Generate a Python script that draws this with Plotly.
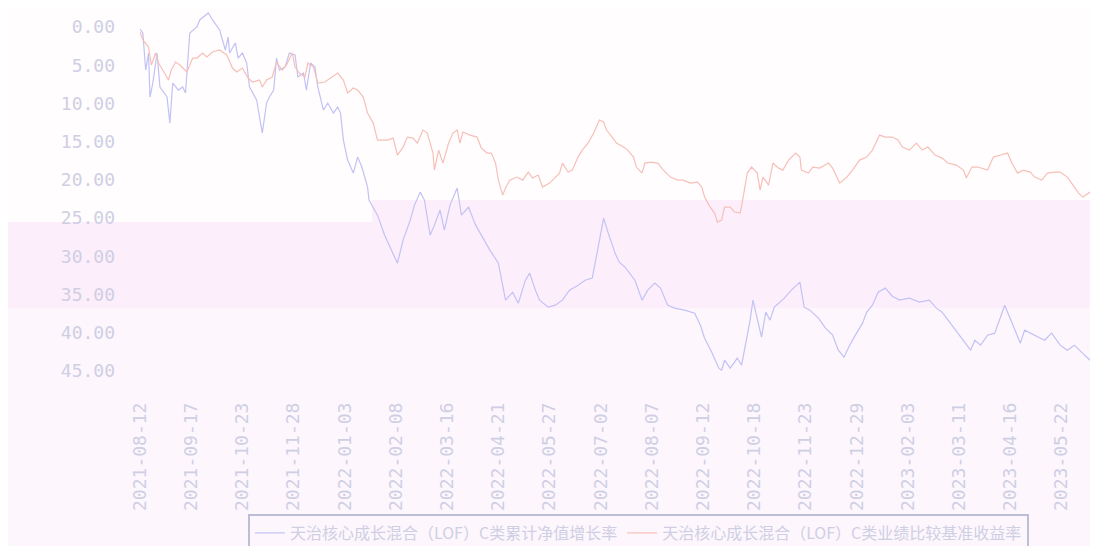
import pandas as pd
import plotly.graph_objects as go

# ---------------- data ----------------
start_date = "2021-08-12"

tick_labels = ["2021-08-12", "2021-09-17", "2021-10-23", "2021-11-28", "2022-01-03",
               "2022-02-08", "2022-03-16", "2022-04-21", "2022-05-27", "2022-07-02",
               "2022-08-07", "2022-09-12", "2022-10-18", "2022-11-23", "2022-12-29",
               "2023-02-03", "2023-03-11", "2023-04-16", "2023-05-22", "2023-06-30"]

y_ticks = [0, 5, 10, 15, 20, 25, 30, 35, 40, 45]

series1_name = "天治核心成长混合（LOF）C类累计净值增长率"
series2_name = "天治核心成长混合（LOF）C类业绩比较基准收益率"

# day offsets from start_date, and values (axis is drawn reversed, 0 at top)
nav_days = [0, 2, 4, 6, 7, 9, 12, 14, 19, 21, 23, 27, 30, 32, 35, 40, 42, 46, 48, 51,
            56, 58, 60, 62, 63, 67, 69, 72, 75, 77, 82, 86, 89, 91, 94, 96, 98, 102, 105, 109,
            111, 115, 117, 120, 123, 125, 129, 132, 136, 139, 141, 143, 146, 150, 153, 156, 160, 161, 167, 172,
            177, 181, 185, 190, 193, 197, 200, 204, 207, 211, 214, 218, 223, 226, 231, 236, 240, 246, 252, 255,
            257, 262, 266, 271, 274, 278, 281, 287, 292, 297, 302, 308, 313, 318, 322, 326, 329, 334, 337, 341,
            348, 353, 357, 362, 366, 371, 376, 383, 390, 394, 397, 402, 407, 409, 411, 415, 420, 423, 425, 429,
            431, 434, 437, 440, 443, 446, 453, 458, 464, 467, 471, 477, 482, 487, 491, 495, 499, 503, 508, 511,
            515, 519, 524, 529, 534, 541, 548, 555, 560, 564, 584, 587, 591, 596, 601, 608, 615, 619, 622, 629,
            636, 641, 647, 652, 657, 662, 668, 673, 677, 681, 686]
nav_vals = [0.26, 0.79, 5.63, 3.40, 9.16, 7.33, 3.40, 7.85, 9.16, 12.57, 7.33, 8.25, 7.85, 8.64, 0.79, 0.0, -0.92, -1.57, -1.83, -0.92,
            0.39, 1.70, 3.01, 1.31, 3.40, 2.09, 4.06, 3.40, 4.71, 7.85, 9.55, 13.87, 9.95, 9.16, 8.25, 4.06, 5.63, 5.24, 3.40, 3.66,
            6.54, 6.02, 8.25, 4.71, 5.24, 7.85, 10.86, 9.95, 11.26, 10.47, 11.26, 14.79, 17.41, 19.11, 17.02, 18.32, 20.94, 22.64, 24.61, 27.23,
            29.19, 30.89, 27.88, 25.26, 23.30, 21.60, 22.64, 27.23, 25.92, 23.95, 26.57, 23.30, 21.07, 24.61, 23.56, 25.92, 27.23, 29.19, 30.89, 33.77,
            35.73, 34.69, 36.13, 33.12, 32.20, 34.42, 35.73, 36.65, 36.39, 35.73, 34.42, 33.77, 33.12, 32.85, 28.80, 25.00, 26.83, 29.58, 30.76, 31.41,
            33.12, 35.73, 34.42, 33.51, 34.16, 36.39, 36.78, 37.04, 37.43, 39.01, 40.71, 42.54, 44.63, 44.90, 43.59, 44.63, 43.32, 44.24, 42.28, 38.35,
            35.73, 38.09, 40.58, 37.30, 38.35, 36.65, 35.47, 34.42, 33.38, 36.65, 37.04, 38.09, 39.40, 40.31, 42.28, 43.19, 41.62, 40.31, 38.74, 37.30,
            36.39, 34.69, 34.16, 35.21, 35.73, 35.47, 35.99, 35.73, 36.78, 37.30, 42.28, 40.97, 41.62, 40.31, 40.05, 36.39, 39.66, 41.36, 39.66, 40.31,
            40.97, 40.05, 41.62, 42.28, 41.62, 42.54, 43.59, 43.19, 44.63, 44.90, 44.24]

bench_days = [0, 2, 6, 8, 11, 13, 16, 20, 22, 25, 28, 33, 37, 40, 44, 47, 51, 56, 61, 65,
              68, 72, 76, 79, 84, 86, 89, 93, 96, 100, 103, 107, 109, 112, 116, 118, 122, 125, 130, 135,
              139, 143, 146, 150, 153, 157, 160, 164, 167, 174, 178, 181, 185, 188, 192, 195, 199, 202, 206, 207,
              210, 213, 217, 220, 223, 225, 227, 232, 237, 240, 244, 247, 250, 252, 255, 257, 260, 265, 269, 273,
              276, 280, 283, 288, 292, 295, 297, 301, 304, 308, 311, 315, 319, 323, 326, 328, 332, 335, 340, 343,
              347, 349, 353, 355, 359, 364, 368, 373, 378, 382, 387, 392, 395, 397, 400, 404, 406, 409, 411, 415,
              418, 422, 424, 427, 430, 434, 436, 438, 442, 445, 449, 452, 456, 461, 464, 465, 470, 473, 478, 484,
              487, 492, 497, 501, 506, 511, 515, 520, 524, 529, 533, 536, 541, 546, 550, 554, 559, 564, 568, 574,
              579, 581, 585, 589, 596, 600, 605, 610, 613, 617, 621, 626, 629, 634, 638, 643, 647, 652, 656, 660,
              663, 668, 671, 673, 678, 681, 684, 686]
bench_vals = [0.65, 1.70, 2.62, 4.97, 3.40, 4.71, 5.63, 6.94, 5.63, 4.58, 4.97, 5.89, 4.06, 4.06, 3.40, 3.93, 3.27, 3.01, 3.66, 5.37,
              5.89, 5.37, 6.68, 7.20, 6.94, 7.85, 6.94, 6.54, 4.58, 5.63, 4.97, 3.40, 5.24, 6.02, 6.54, 4.71, 5.24, 7.33, 7.20, 6.54,
              6.02, 6.94, 8.64, 7.98, 8.25, 9.16, 11.26, 12.57, 14.79, 14.79, 14.53, 16.75, 15.71, 14.40, 14.53, 15.18, 13.48, 13.87, 16.49, 18.72,
              16.10, 17.80, 15.18, 13.87, 13.48, 15.18, 13.74, 14.14, 14.40, 15.84, 16.49, 16.49, 17.80, 20.03, 21.99, 21.07, 20.03, 19.63, 20.03, 18.98,
              19.76, 19.37, 20.94, 20.42, 19.63, 19.11, 17.80, 18.98, 18.72, 17.02, 16.10, 15.18, 13.87, 12.17, 12.43, 13.48, 14.40, 15.18, 15.71, 16.10,
              17.02, 18.32, 19.11, 17.80, 17.67, 17.80, 18.72, 19.63, 20.03, 20.03, 20.42, 20.29, 20.94, 22.25, 23.30, 24.35, 25.52, 25.26, 23.56, 23.56,
              24.21, 24.35, 22.38, 19.11, 18.32, 19.11, 21.34, 19.63, 20.68, 17.80, 18.46, 18.72, 17.41, 16.49, 17.02, 18.72, 19.11, 18.32, 18.46, 17.80,
              18.46, 20.42, 19.63, 18.72, 17.41, 17.02, 16.10, 14.14, 14.40, 14.40, 14.79, 15.71, 16.10, 15.18, 16.10, 15.71, 16.75, 17.15, 17.80, 18.06,
              18.72, 19.76, 18.32, 18.32, 18.72, 17.02, 16.75, 16.49, 17.80, 19.11, 18.72, 18.98, 19.63, 20.03, 19.11, 18.98, 18.98, 19.63, 20.68, 21.73,
              22.25, 21.60, 21.34, 21.73, 24.21, 25.92, 25.79, 24.61]

# ---------------- build ----------------
t0 = pd.Timestamp(start_date)
nav_dates = t0 + pd.to_timedelta(nav_days, unit="D")
bench_dates = t0 + pd.to_timedelta(bench_days, unit="D")
tick_vals = [pd.Timestamp(s) for s in tick_labels]

# the page body has an 8px margin, so the figure is 8px smaller than the window
OFF = 8
W, H = 1098 - OFF, 546 - OFF
ML, MR, MT, MB = 140 - OFF, 0, 0, 175
PW, PH = W - ML - MR, H - MT - MB
PX_PER_UNIT = (371 - 27) / 45          # 5-unit ticks are ~38 px apart
Y_TOP = -(27 - OFF) / PX_PER_UNIT       # value at the top edge of the plot

TEXT = "#cfcfe4"
LAV = "#c2c2f4"
SAL = "#f6c0b8"
FONT = "Noto Sans CJK SC"
TICKFONT = "DejaVu Sans Mono"


def px_x(p):
    return (p - OFF - ML) / PW


def px_y(p):
    return (H - MB - (p - OFF)) / PH


fig = go.Figure()
fig.add_trace(go.Scatter(x=nav_dates, y=nav_vals, mode="lines", name=series1_name,
                         line=dict(color=LAV, width=1.2)))
fig.add_trace(go.Scatter(x=bench_dates, y=bench_vals, mode="lines", name=series2_name,
                         line=dict(color=SAL, width=1.2)))

shapes = [
    dict(type="rect", xref="paper", yref="paper", x0=px_x(0), x1=px_x(372), y0=px_y(222), y1=px_y(OFF),
         fillcolor="#fffdfe", line_width=0, layer="below"),
    dict(type="rect", xref="paper", yref="paper", x0=px_x(372), x1=px_x(1098), y0=px_y(200), y1=px_y(OFF),
         fillcolor="#fffdfe", line_width=0, layer="below"),
    dict(type="rect", xref="paper", yref="paper", x0=px_x(0), x1=px_x(372), y0=px_y(308), y1=px_y(222),
         fillcolor="#fdeefb", line_width=0, layer="below"),
    dict(type="rect", xref="paper", yref="paper", x0=px_x(372), x1=px_x(1098), y0=px_y(308), y1=px_y(200),
         fillcolor="#fdeefb", line_width=0, layer="below"),
]

fig.update_layout(
    width=W, height=H, autosize=False,
    margin=dict(l=ML, r=MR, t=MT, b=MB, pad=0, autoexpand=False),
    paper_bgcolor="#fdf6fd", plot_bgcolor="rgba(0,0,0,0)",
    font=dict(family=FONT, color=TEXT, size=16),
    shapes=shapes,
    showlegend=True,
    legend=dict(orientation="h", x=px_x(248), xanchor="left", y=px_y(514), yanchor="top",
                bordercolor="#bdbdd8", borderwidth=2, bgcolor="rgba(0,0,0,0)",
                font=dict(size=16, color=TEXT, family=FONT), itemwidth=30),
)

fig.update_xaxes(type="date", range=[t0, t0 + pd.Timedelta(days=PW / (51.2 / 36))],
                 tickmode="array", tickvals=tick_vals, ticktext=tick_labels, tickangle=-90,
                 tickfont=dict(size=18, color=TEXT, family=TICKFONT), showgrid=False, zeroline=False,
                 showline=False, ticks="", ticklabelstandoff=27, automargin=False)
fig.update_yaxes(range=[45, Y_TOP], tickmode="array", tickvals=y_ticks, tickformat=".2f",
                 tickfont=dict(size=18, color=TEXT, family=TICKFONT), showgrid=False, zeroline=False,
                 showline=False, ticks="", ticklabelstandoff=24, automargin=False)

fig.write_html("out.html")
